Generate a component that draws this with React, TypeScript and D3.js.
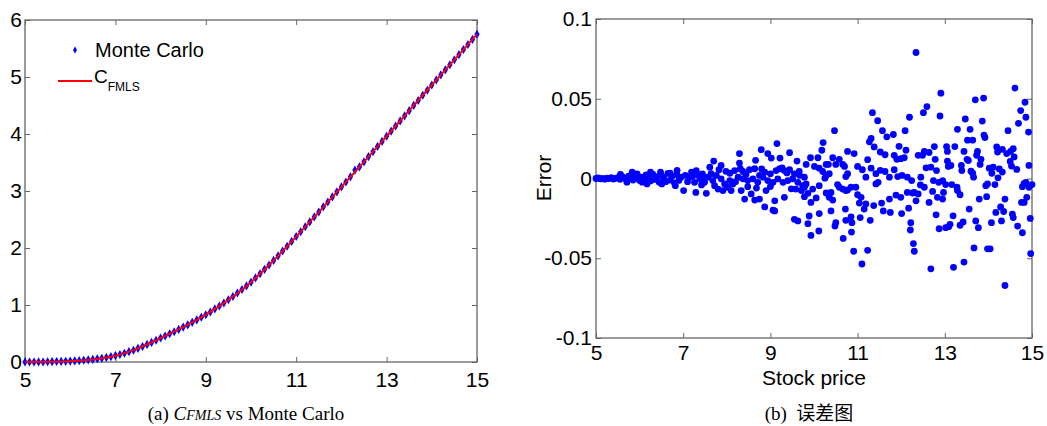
import React, { useEffect, useRef } from "react";
import * as d3 from "d3";

const width = 1047;
const height = 426;

const priceTicks = [5, 7, 9, 11, 13, 15];
const optionTicks = [0, 1, 2, 3, 4, 5, 6];
const optionTickLabels = ["0", "1", "2", "3", "4", "5", "6"];
const errorTicks = [-0.1, -0.05, 0, 0.05, 0.1];
const errorTickLabels = ["-0.1", "-0.05", "0", "0.05", "0.1"];

// C_FMLS curve (stock price, option value)
const fmlsPrice = [5, 5.5, 6, 6.5, 7, 7.5, 8, 8.5, 9, 9.5, 10, 10.5, 11, 11.5, 12, 12.5, 13, 13.5, 14, 14.5, 15];
const fmlsValue = [0.001, 0.004, 0.015, 0.045, 0.11, 0.24, 0.42, 0.61, 0.83, 1.09, 1.4, 1.78, 2.2, 2.63, 3.07, 3.51, 3.96, 4.41, 4.86, 5.3, 5.75];

// Monte Carlo estimates [stock price, option value]
const monteCarlo: [number, number][] = [
  [5.0, 0.0], [5.1, 0.001], [5.2, 0.0], [5.3, 0.002], [5.4, 0.001], [5.5, 0.004], [5.6, 0.006], [5.7, 0.008], [5.8, 0.01], [5.9, 0.012],
  [6.0, 0.016], [6.1, 0.02], [6.2, 0.024], [6.3, 0.031], [6.4, 0.038], [6.5, 0.046], [6.6, 0.055], [6.7, 0.066], [6.8, 0.08], [6.9, 0.094],
  [7.0, 0.112], [7.1, 0.132], [7.2, 0.153], [7.3, 0.181], [7.4, 0.207], [7.5, 0.24], [7.6, 0.273], [7.7, 0.309], [7.8, 0.344], [7.9, 0.381],
  [8.0, 0.42], [8.1, 0.456], [8.2, 0.495], [8.3, 0.531], [8.4, 0.572], [8.5, 0.612], [8.6, 0.652], [8.7, 0.696], [8.8, 0.738], [8.9, 0.784],
  [9.0, 0.83], [9.1, 0.878], [9.2, 0.931], [9.3, 0.982], [9.4, 1.036], [9.5, 1.092], [9.6, 1.15], [9.7, 1.21], [9.8, 1.272], [9.9, 1.335],
  [10.0, 1.401], [10.1, 1.475], [10.2, 1.548], [10.3, 1.626], [10.4, 1.702], [10.5, 1.782], [10.6, 1.862], [10.7, 1.948], [10.8, 2.03], [10.9, 2.116],
  [11.0, 2.201], [11.1, 2.286], [11.2, 2.373], [11.3, 2.458], [11.4, 2.546], [11.5, 2.632], [11.6, 2.722], [11.7, 2.808], [11.8, 2.896], [11.9, 2.985],
  [12.0, 3.072], [12.1, 3.158], [12.2, 3.248], [12.3, 3.367], [12.4, 3.424], [12.5, 3.512], [12.6, 3.604], [12.7, 3.69], [12.8, 3.782], [12.9, 3.87],
  [13.0, 3.961], [13.1, 4.05], [13.2, 4.141], [13.3, 4.23], [13.4, 4.318], [13.5, 4.41], [13.6, 4.502], [13.7, 4.588], [13.8, 4.68], [13.9, 4.768],
  [14.0, 4.86], [14.1, 4.948], [14.2, 5.038], [14.3, 5.126], [14.4, 5.214], [14.5, 5.302], [14.6, 5.392], [14.7, 5.482], [14.8, 5.571], [14.9, 5.66],
  [15.0, 5.75],
];

// error of C_FMLS vs Monte Carlo [stock price, error]
const errorPoints: [number, number][] = [
  [5.0, 0.0], [5.05, 0.0003], [5.1, -0.0002], [5.15, 0.0001], [5.2, -0.0004], [5.25, 0.0002], [5.3, 0.0], [5.35, 0.0005], [5.4, -0.0003], [5.45, 0.0001],
  [5.5, 0.0006], [5.55, -0.0005], [5.6, 0.0012], [5.65, 0.0003], [5.7, -0.0008], [5.75, 0.0015], [5.8, 0.0007], [5.85, -0.001], [5.9, 0.0004], [5.95, 0.0018],
  [6.0, -0.0012], [6.05, 0.0009], [6.1, -0.0018], [6.15, 0.0022], [6.2, 0.0005], [6.25, -0.0015], [6.3, 0.0028], [6.35, -0.0006], [6.4, 0.0012], [6.45, -0.0024],
  [6.5, 0.002], [6.55, 0.0006], [6.6, -0.002], [6.65, 0.0032], [6.7, -0.001], [6.75, 0.0015], [6.8, -0.0028], [6.85, 0.0025], [6.9, -0.0012], [6.95, 0.0008],
  [7.01, -0.0076], [6.82, -0.0045], [6.86, 0.0051], [6.7, 0.0034], [6.48, 0.004], [6.25, 0.004], [5.94, 0.0029], [5.83, 0.004], [5.56, 0.0025],
  [6.17, -0.0034], [6.51, -0.0034], [6.06, -0.0023], [5.71, -0.0023], [7.05, 0.002], [7.1, -0.002],
  [9.15, 0.0219], [8.79, 0.0181], [8.29, 0.0156], [8.94, 0.0156], [9.02, 0.0128], [9.44, 0.0162], [9.22, 0.0128],
  [7.7, 0.0109], [8.29, 0.0097], [8.66, 0.0114], [9.61, 0.0109], [9.27, 0.0067],
  [7.19, 0.004], [7.3, 0.005], [7.44, 0.0029], [7.61, 0.0071], [7.87, 0.0082], [7.82, 0.0055], [8.07, 0.0033], [8.18, 0.005], [8.31, 0.0061], [8.37, 0.0044],
  [8.52, 0.0055], [8.64, 0.0061], [8.75, 0.0019], [8.87, 0.004], [9.0, 0.0029], [9.13, 0.005], [9.21, 0.0061], [9.32, 0.005], [9.44, 0.0055], [9.55, 0.0029], [9.67, 0.0019], [9.78, 0.0008],
  [7.15, 0.0008], [7.26, -0.0024], [7.38, -0.0002], [7.49, -0.0024], [7.57, 0.0008], [7.68, -0.0013], [7.76, 0.0019], [7.87, -0.0002], [7.95, -0.0034], [8.07, -0.0013], [8.14, -0.0034], [8.26, 0.0008],
  [8.37, -0.0002], [8.48, -0.0013], [8.6, -0.0002], [8.71, -0.0024], [8.83, 0.0008], [8.94, -0.0013], [9.06, -0.0024], [9.17, -0.0002], [9.29, -0.0024], [9.4, -0.0013], [9.51, -0.0002], [9.63, -0.0024], [9.74, -0.0045],
  [7.29, -0.0087], [7.53, -0.0093], [7.8, -0.0066], [7.91, -0.0076], [8.1, -0.0076], [8.33, -0.0076], [8.48, -0.0051],
  [8.41, -0.0129], [8.56, -0.0097], [8.64, -0.0135], [8.75, -0.0129], [8.9, -0.0076], [9.1, -0.014], [9.32, -0.0118], [9.58, -0.0066], [9.71, -0.0076], [9.78, -0.0114],
  [8.87, -0.0178], [9.06, -0.0199], [9.1, -0.0203], [9.55, -0.0256], [9.63, -0.0266],
  [7.22, 0.0015], [7.35, 0.0022], [7.42, -0.004], [7.47, 0.0012], [7.64, 0.003], [7.72, -0.0045], [7.98, 0.0045], [8.02, -0.0055], [8.2, -0.002], [8.44, 0.0025],
  [8.68, -0.006], [8.8, 0.006], [9.0, -0.005], [9.38, 0.0035], [9.48, -0.0065], [9.66, 0.0045],
  [11.34, 0.0413], [11.46, 0.0362], [12.19, 0.0384],
  [10.47, 0.03], [11.57, 0.03], [11.67, 0.0261], [11.82, 0.0276], [12.09, 0.03],
  [11.31, 0.0251], [11.27, 0.023], [11.38, 0.0198], [10.21, 0.0225], [10.18, 0.0177],
  [9.92, 0.013], [10.09, 0.013], [10.43, 0.013], [10.77, 0.017], [10.92, 0.0156],
  [11.52, 0.0166], [11.63, 0.0149], [11.84, 0.0145], [11.95, 0.0202], [11.99, 0.0124], [11.9, 0.012], [12.07, 0.013], [12.11, 0.0177],
  [9.82, 0.0088], [10.01, 0.0076], [10.12, 0.0065], [10.28, 0.0088], [10.33, 0.0088], [10.5, 0.0088], [10.58, 0.012], [10.66, 0.0088], [10.7, 0.0076],
  [10.2, 0.0044], [10.28, 0.0019], [10.35, 0.003], [10.25, 0.0002], [10.12, -0.0045],
  [10.77, 0.003], [10.73, 0.0012], [11.0, 0.0076], [11.11, 0.0055], [11.23, 0.0118], [11.31, 0.0065], [11.19, 0.0008],
  [11.42, 0.003], [11.52, 0.0051], [11.63, 0.0044], [11.42, -0.0034], [11.47, -0.0024],
  [11.73, 0.0008], [11.84, 0.0055], [11.92, 0.0012], [12.02, 0.0019], [12.14, 0.0008], [12.24, -0.0013],
  [9.78, -0.0055], [9.82, -0.0034], [9.97, -0.0066], [9.86, -0.0093], [9.93, -0.015], [10.05, -0.0122],
  [10.28, -0.0091], [10.39, -0.0087], [10.35, -0.0118], [10.43, -0.0135], [10.39, -0.0203],
  [10.54, -0.0038], [10.58, -0.0055], [10.66, -0.0066], [10.73, -0.0076], [10.85, -0.0055], [10.77, -0.0072],
  [10.96, -0.0055], [11.0, -0.0102], [11.04, -0.0154], [11.15, -0.0192], [11.19, -0.016], [11.08, -0.0118],
  [11.37, -0.017], [11.55, -0.0154], [11.59, -0.0203], [11.73, -0.0129], [11.75, -0.0213], [11.88, -0.0104], [11.99, -0.0118], [12.01, -0.022], [12.14, -0.0087], [12.17, -0.0186], [12.26, -0.0091],
  [9.89, -0.0235], [10.12, -0.022],
  [9.86, -0.0283], [9.93, -0.0357], [10.11, -0.0329], [10.48, -0.0298], [10.5, -0.0277], [10.73, -0.0262], [10.85, -0.024], [10.87, -0.0277], [10.72, -0.0192],
  [11.06, -0.0245], [11.29, -0.0262], [10.86, -0.0336], [10.67, -0.0376],
  [10.91, -0.0456], [11.23, -0.045], [11.1, -0.0536],
  [12.22, -0.0277], [12.21, -0.0323], [12.28, -0.0408], [12.3, -0.0456],
  [12.34, 0.079], [12.91, 0.0535], [12.59, 0.0451], [12.51, 0.0413], [12.89, 0.0392], [13.7, 0.0493], [13.89, 0.0504], [13.47, 0.0373], [13.86, 0.036],
  [13.29, 0.0308], [13.58, 0.0308], [13.9, 0.0272], [13.92, 0.0257],
  [14.61, 0.0567], [14.84, 0.0478], [14.74, 0.0426], [14.86, 0.0384], [14.69, 0.0346], [14.45, 0.03], [14.92, 0.0291],
  [13.52, 0.024], [13.64, 0.024], [12.76, 0.02], [13.04, 0.02], [13.23, 0.02],
  [12.53, 0.017], [12.64, 0.0163], [12.39, 0.0145], [12.49, 0.0145], [12.78, 0.012],
  [13.06, 0.017], [13.06, 0.0109], [13.14, 0.0082], [13.08, 0.0076],
  [13.44, 0.017], [13.51, 0.012], [13.54, 0.0113], [13.38, 0.0082], [13.39, 0.005],
  [13.75, 0.017], [13.73, 0.0145], [13.83, 0.012], [13.81, 0.0088],
  [14.19, 0.0198], [14.21, 0.0166], [14.32, 0.0183], [14.42, 0.0156], [14.51, 0.017], [14.57, 0.0187], [14.59, 0.0135], [14.5, 0.0107], [14.53, 0.0078], [14.65, 0.0057],
  [14.93, 0.0082], [12.57, 0.0067], [12.68, 0.0071], [12.81, 0.005],
  [14.02, 0.0065], [14.11, 0.0071], [14.08, 0.0033], [14.25, 0.006], [14.32, 0.004], [14.22, 0.0004], [14.15, -0.0038], [13.98, -0.0034], [13.94, -0.0045],
  [13.64, 0.0033], [13.66, 0.0008], [13.6, 0.0046],
  [12.45, 0.0008], [12.44, -0.004], [12.53, -0.0055], [12.39, -0.0097], [12.34, -0.014], [12.3, -0.0087],
  [12.74, -0.0013], [12.86, -0.0024], [12.95, -0.0013], [13.02, -0.0038], [12.97, -0.0087], [12.83, -0.0118], [12.95, -0.0129], [12.72, -0.0081], [12.64, -0.015],
  [13.16, -0.0038], [13.29, -0.0076], [13.28, -0.0055], [13.35, -0.0102], [13.79, -0.0129], [13.96, -0.0114],
  [14.86, -0.0024], [14.78, -0.0051], [14.82, -0.003], [15.0, -0.0038], [14.93, -0.0055], [14.88, -0.0118], [14.76, -0.015], [14.82, -0.015],
  [14.38, -0.0129], [14.28, -0.0178], [14.17, -0.0213], [14.35, -0.0207],
  [12.8, -0.0228], [13.19, -0.0234], [13.56, -0.0192],
  [12.87, -0.0315], [13.02, -0.0308], [13.09, -0.0302], [13.12, -0.0287], [13.35, -0.0293], [13.42, -0.0272], [13.71, -0.0266], [13.77, -0.0308],
  [14.07, -0.0277], [14.3, -0.0266], [14.55, -0.0224], [14.57, -0.0245], [14.67, -0.0298], [14.78, -0.034], [14.96, -0.025],
  [13.67, -0.0435], [13.98, -0.0441], [14.04, -0.0441], [14.97, -0.0471],
  [12.68, -0.0566], [13.2, -0.0557], [13.44, -0.0524], [14.38, -0.0671],
];

const axisColor = "#666";
const sans = "'Liberation Sans', Arial, Helvetica, sans-serif";
const serif = "'Liberation Serif', 'Times New Roman', Times, serif";

function drawAxes(svg, x, y, yTicks, yLabels, xPad, yPad) {
  const [x0, x1] = x.range();
  const [yBottom, yTop] = y.range();
  const style = (g) => {
    g.select(".domain").remove();
    g.selectAll("line").attr("stroke", axisColor);
    g.selectAll("text").attr("fill", "#000").style("font-size", "21px").style("font-family", sans);
  };

  svg.append("g")
    .attr("transform", "translate(0," + yBottom + ")")
    .call(d3.axisBottom(x).tickValues(priceTicks).tickSize(-5).tickPadding(xPad).tickFormat(d3.format("d")))
    .call(style);
  svg.append("g")
    .attr("transform", "translate(0," + yTop + ")")
    .call(d3.axisTop(x).tickValues(priceTicks).tickSize(-5).tickFormat(() => ""))
    .call(style);
  svg.append("g")
    .attr("transform", "translate(" + x0 + ",0)")
    .call(d3.axisLeft(y).tickValues(yTicks).tickSize(-5).tickPadding(yPad).tickFormat((d, i) => yLabels[i]))
    .call(style);
  svg.append("g")
    .attr("transform", "translate(" + x1 + ",0)")
    .call(d3.axisRight(y).tickValues(yTicks).tickSize(-5).tickFormat(() => ""))
    .call(style);

  svg.append("rect")
    .attr("x", x0).attr("y", yTop)
    .attr("width", x1 - x0).attr("height", yBottom - yTop)
    .attr("fill", "none")
    .attr("stroke", axisColor)
    .attr("stroke-width", 1.3);
}

export default function App() {
  const ref = useRef(null);

  useEffect(() => {
    const svg = d3.select(ref.current);
    svg.selectAll("*").remove();

    // ---------- (a) option value ----------
    const xa = d3.scaleLinear().domain([5, 15]).range([25, 477]);
    const ya = d3.scaleLinear().domain([0, 6]).range([362, 20]);
    drawAxes(svg, xa, ya, optionTicks, optionTickLabels, 10, 3);

    const diamond = d3.symbol().type(d3.symbolDiamond).size(24);
    svg.append("g")
      .selectAll("path")
      .data(monteCarlo)
      .join("path")
      .attr("d", diamond)
      .attr("transform", d => "translate(" + xa(d[0]) + "," + ya(d[1]) + ")")
      .attr("fill", "#0000ff");

    svg.append("path")
      .datum(fmlsPrice.map((p, i) => [p, fmlsValue[i]]))
      .attr("fill", "none")
      .attr("stroke", "#ff0000")
      .attr("stroke-width", 2)
      .attr("d", d3.line().x(d => xa(d[0])).y(d => ya(d[1])).curve(d3.curveMonotoneX));

    // legend
    svg.append("path")
      .attr("d", d3.symbol().type(d3.symbolDiamond).size(14))
      .attr("transform", "translate(75,50)")
      .attr("fill", "#0000ff");
    svg.append("text")
      .attr("x", 95).attr("y", 57)
      .style("font", "20px " + sans)
      .text("Monte Carlo");
    svg.append("line")
      .attr("x1", 58).attr("x2", 92).attr("y1", 81).attr("y2", 81)
      .attr("stroke", "#ff0000").attr("stroke-width", 2);
    const cl = svg.append("text").attr("x", 94).attr("y", 83).style("font", "19px " + sans);
    cl.append("tspan").text("C");
    cl.append("tspan").attr("dy", 8).style("font-size", "12px").text("FMLS");

    // caption (a)
    const ca = svg.append("text")
      .attr("x", 246).attr("y", 420)
      .attr("text-anchor", "middle")
      .style("font", "19px " + serif)
      .style("white-space", "pre");
    ca.append("tspan").text("(a) ");
    ca.append("tspan").style("font-style", "italic").text("C");
    ca.append("tspan").style("font-style", "italic").style("font-size", "14px").text("FMLS");
    ca.append("tspan").text(" vs Monte Carlo");

    // ---------- (b) error ----------
    const xb = d3.scaleLinear().domain([5, 15]).range([596, 1032]);
    const yb = d3.scaleLinear().domain([-0.1, 0.1]).range([338, 19]);
    drawAxes(svg, xb, yb, errorTicks, errorTickLabels, 7, 4);

    svg.append("g")
      .selectAll("circle")
      .data(errorPoints)
      .join("circle")
      .attr("cx", d => xb(d[0]))
      .attr("cy", d => yb(d[1]))
      .attr("r", 3.4)
      .attr("fill", "#0000ff");

    svg.append("text")
      .attr("transform", "translate(551,178)rotate(-90)")
      .attr("text-anchor", "middle")
      .style("font", "21px " + sans)
      .text("Error");

    svg.append("text")
      .attr("x", 814).attr("y", 385)
      .attr("text-anchor", "middle")
      .style("font", "21px " + sans)
      .text("Stock price");

    const cb = svg.append("text")
      .attr("x", 809).attr("y", 420)
      .attr("text-anchor", "middle")
      .style("font", "19px " + serif)
      .style("white-space", "pre");
    cb.append("tspan").text("(b)  ");
    cb.append("tspan").style("font-family", "'Noto Sans CJK SC', sans-serif").text("误差图");
  }, []);

  return (
    <svg
      ref={ref}
      width={width}
      height={height}
      style={{ position: "absolute", left: 0, top: 0, background: "#fff" }}
    />
  );
}
